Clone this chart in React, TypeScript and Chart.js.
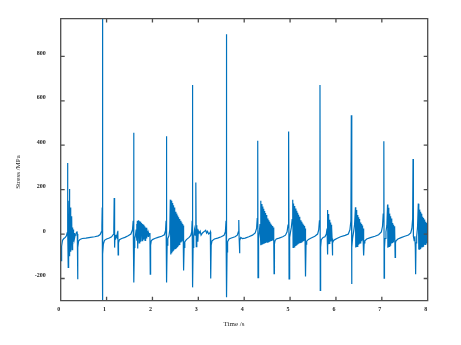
import React, { useEffect, useRef } from "react";
import { Chart, registerables } from "chart.js";

Chart.register(...registerables);

// ---- axis definitions ----
const xTickValues = [0, 1, 2, 3, 4, 5, 6, 7, 8];
const yTickValues = [-200, 0, 200, 400, 600, 800];
const xRange = [0, 8];
const yRange = [-300, 970];
const xTitle = "Time /s";
const yTitle = "Stress /MPa";

// ---- stress trace, [time s, stress MPa] ----
const seg0 = [
  [0, -108], [0.008, -120], [0.02, -55], [0.04, -28], [0.07, -20], [0.1, -15], [0.125, -8], [0.14, 5],
  [0.147, 40], [0.152, 320], [0.158, 20], [0.164, -150], [0.17, 50], [0.176, -30], [0.182, 150], [0.188, -60],
  [0.194, 203], [0.2, -100], [0.206, 120], [0.212, -40], [0.218, 90], [0.224, -80], [0.23, 60], [0.236, -50],
  [0.242, 80], [0.248, -70], [0.256, 30], [0.264, -50], [0.272, 20], [0.28, -35], [0.29, 5], [0.3, -20],
  [0.315, -5], [0.33, 0], [0.345, 8], [0.355, 12], [0.362, 0], [0.368, -203], [0.376, -60], [0.39, -32],
  [0.42, -24], [0.47, -20],
];
const seg1 = [
  [0.55, -18], [0.65, -15], [0.74, -12], [0.82, -8], [0.86, -2], [0.885, 10], [0.898, 35], [0.905, 120],
  [0.909, 1000], [0.913, -340], [0.92, -90], [0.93, -45], [0.955, -28], [1.0, -22], [1.06, -18], [1.11, -12],
];
const seg2 = [
  [1.145, -2], [1.158, 25], [1.166, 162], [1.172, -10], [1.178, -61], [1.185, -5], [1.195, -25], [1.21, -8],
  [1.225, -14], [1.238, 8], [1.246, 15], [1.252, -94], [1.26, -40], [1.28, -25], [1.33, -20], [1.4, -15],
  [1.47, -8], [1.53, 0],
];
const seg3 = [
  [1.565, 20], [1.58, 60], [1.59, 456], [1.597, -218], [1.605, -60], [1.615, -20], [1.63, -5], [1.645, 20],
  [1.655, 45], [1.663, -30], [1.671, 60], [1.679, -65], [1.687, 55], [1.695, -15], [1.703, 62], [1.711, -40],
  [1.719, 58], [1.727, -10], [1.735, 55], [1.743, -35], [1.751, 50], [1.759, -5], [1.767, 48], [1.775, -30],
  [1.783, 45], [1.791, -8], [1.799, 40], [1.807, -25], [1.815, 42], [1.823, -15], [1.831, 35], [1.839, -28],
  [1.847, 30], [1.855, -10], [1.863, 28], [1.871, -20], [1.879, 22], [1.887, -5], [1.895, 15], [1.905, -10],
  [1.915, 5], [1.93, -5], [1.945, 5], [1.952, -180], [1.96, -50], [1.975, -30], [2.0, -25],
];
const seg4 = [
  [2.05, -20], [2.12, -15], [2.2, -10], [2.26, -3], [2.285, 15], [2.297, 60], [2.305, 440], [2.311, -218],
  [2.32, -50], [2.335, -20], [2.36, -8], [2.378, 20], [2.39, 155], [2.4, -92], [2.41, 150], [2.42, -86],
  [2.43, 140], [2.44, -80], [2.45, 130], [2.46, -75], [2.47, 120], [2.48, -70], [2.49, 110], [2.5, -65],
  [2.51, 100], [2.52, -60], [2.53, 92], [2.54, -55], [2.55, 84], [2.56, -50], [2.57, 76], [2.58, -46],
  [2.59, 68], [2.6, -42], [2.61, 60], [2.62, -38], [2.63, 52], [2.64, -34], [2.65, 45], [2.66, -30],
  [2.668, 38], [2.675, -10], [2.683, -164], [2.69, -60], [2.705, -35], [2.74, -25], [2.8, -15],
];
const seg5 = [
  [2.835, -6], [2.855, 10], [2.866, 60], [2.872, 671], [2.878, -240], [2.886, -60], [2.9, -10], [2.918, 20],
  [2.932, -5], [2.942, 30], [2.949, 232], [2.955, -57], [2.963, 40], [2.971, -20], [2.98, 22], [2.99, -35],
  [3.0, 15], [3.02, 5], [3.04, 13], [3.06, -5], [3.09, 5], [3.12, 10], [3.16, 17], [3.18, 5],
  [3.2, 12], [3.225, 0], [3.25, 5], [3.262, 10], [3.27, -200], [3.28, -50], [3.3, -30], [3.35, -22],
  [3.42, -18], [3.5, -12],
];
const seg6 = [
  [3.56, -6], [3.59, 10], [3.604, 60], [3.612, 900], [3.618, -284], [3.626, -80], [3.638, -35], [3.67, -22],
  [3.72, -18], [3.8, -12], [3.85, -5], [3.872, 10], [3.882, 63], [3.89, -20], [3.898, -86], [3.906, -30],
  [3.925, -15], [3.96, -20], [4.02, -18], [4.1, -12], [4.18, -5], [4.24, 5], [4.27, 25], [4.284, 70],
];
const seg7 = [
  [4.295, 420], [4.301, -196], [4.309, -60], [4.318, -20], [4.33, 10], [4.345, 45], [4.358, 150], [4.366, -50],
  [4.376, 135], [4.386, -48], [4.396, 124], [4.406, -46], [4.416, 114], [4.426, -44], [4.436, 104], [4.446, -42],
  [4.456, 95], [4.466, -40], [4.476, 86], [4.486, -38], [4.496, 78], [4.506, -36], [4.516, 70], [4.526, -34],
  [4.536, 62], [4.546, -32], [4.556, 55], [4.566, -30], [4.576, 48], [4.586, -28], [4.596, 42], [4.606, -26],
  [4.616, 36], [4.626, -24], [4.636, 30], [4.644, -20], [4.651, -178], [4.659, -45], [4.672, -30], [4.7, -22],
  [4.76, -18], [4.84, -12], [4.9, -5], [4.935, 10], [4.955, 40], [4.965, 100],
];
const seg8 = [
  [4.972, 462], [4.978, -202], [4.986, -60], [4.996, -15], [5.01, 10], [5.028, 30], [5.045, 65], [5.058, 154],
  [5.066, -60], [5.076, 138], [5.086, -58], [5.096, 126], [5.106, -56], [5.116, 115], [5.126, -54], [5.136, 105],
  [5.146, -50], [5.156, 96], [5.166, -47], [5.176, 87], [5.186, -44], [5.196, 78], [5.206, -41], [5.216, 70],
  [5.226, -38], [5.236, 62], [5.246, -35], [5.256, 55], [5.266, -32], [5.276, 48], [5.286, -29], [5.296, 42],
  [5.306, -26], [5.316, 36], [5.326, -22], [5.333, 25], [5.34, -191], [5.348, -45], [5.362, -32], [5.4, -24],
  [5.46, -18], [5.54, -10], [5.6, 0], [5.625, 20], [5.64, 60],
];
const seg9 = [
  [5.652, 671], [5.658, -254], [5.666, -60], [5.68, -25], [5.72, -15], [5.76, -12], [5.79, 0], [5.806, 25],
  [5.815, 108], [5.821, -92], [5.829, 90], [5.837, -46], [5.845, 76], [5.853, -42], [5.861, 64], [5.869, -38],
  [5.877, 52], [5.885, -34], [5.893, 42], [5.901, -30], [5.909, 32], [5.916, -20], [5.922, -96], [5.93, -40],
  [5.945, -30], [5.975, -25], [6.02, -20], [6.1, -12], [6.2, -6], [6.27, 0], [6.305, 20], [6.326, 60],
];
const seg10 = [
  [6.335, 535], [6.341, -225], [6.349, -60], [6.362, -20], [6.385, 10], [6.405, 40], [6.425, 121], [6.432, -60],
  [6.44, 108], [6.448, -58], [6.456, 96], [6.464, -55], [6.472, 86], [6.48, -52], [6.488, 76], [6.496, -48],
  [6.504, 68], [6.512, -44], [6.52, 60], [6.528, -40], [6.536, 52], [6.544, -36], [6.552, 45], [6.56, -32],
  [6.568, 38], [6.576, -28], [6.584, 32], [6.592, -24], [6.6, 25], [6.607, -96], [6.615, -40], [6.63, -30],
  [6.67, -22], [6.75, -16], [6.85, -10], [6.93, -3], [6.99, 10], [7.015, 35], [7.03, 90],
];
const seg11 = [
  [7.044, 418], [7.05, -199], [7.058, -60], [7.07, -20], [7.09, 10], [7.11, 40], [7.125, 133], [7.132, -62],
  [7.14, 118], [7.148, -58], [7.156, 104], [7.164, -55], [7.172, 92], [7.18, -50], [7.188, 80], [7.196, -46],
  [7.204, 70], [7.212, -42], [7.22, 60], [7.228, -38], [7.236, 50], [7.244, -34], [7.252, 42], [7.26, -30],
  [7.268, 35], [7.276, -26], [7.283, 28], [7.29, -105], [7.298, -40], [7.31, -30], [7.35, -22], [7.42, -16],
  [7.5, -10], [7.58, -4], [7.63, 5], [7.655, 25], [7.672, 70],
];
const seg12 = [
  [7.68, 338], [7.688, -10], [7.705, -30], [7.72, -10], [7.73, -60], [7.737, -181], [7.745, -40], [7.76, -10],
  [7.778, 30], [7.795, 137], [7.802, -70], [7.81, 120], [7.818, -68], [7.826, 110], [7.834, -65], [7.842, 100],
  [7.85, -62], [7.858, 92], [7.866, -60], [7.874, 85], [7.882, -57], [7.89, 78], [7.898, -54], [7.906, 72],
  [7.914, -51], [7.922, 66], [7.93, -48], [7.938, 60], [7.946, -46], [7.954, 55], [7.962, -44], [7.97, 50],
  [7.978, -42], [7.986, 46], [7.994, -40], [8.0, 42],
];

const segments = [seg0, seg1, seg2, seg3, seg4, seg5, seg6, seg7, seg8, seg9, seg10, seg11, seg12];

const LINE_COLOR = "#0072BD";
const FRAME_COLOR = "#4d4d4d";
const TEXT_COLOR = "#262626";
const SERIF = '"Liberation Serif", "Times New Roman", serif';

const framePlugin = {
  id: "frameAndTitles",
  afterDatasetsDraw(chart: any) {
    const { ctx, chartArea: a, scales } = chart;
    const xs = scales.x;
    const ys = scales.y;
    const tl = 4;
    ctx.save();
    ctx.strokeStyle = FRAME_COLOR;
    ctx.lineWidth = 1.3;
    ctx.beginPath();
    ctx.rect(a.left, a.top, a.right - a.left, a.bottom - a.top);
    for (const v of xTickValues) {
      const px = xs.getPixelForValue(v);
      ctx.moveTo(px, a.bottom);
      ctx.lineTo(px, a.bottom - tl);
      ctx.moveTo(px, a.top);
      ctx.lineTo(px, a.top + tl);
    }
    for (const v of yTickValues) {
      const py = ys.getPixelForValue(v);
      ctx.moveTo(a.left, py);
      ctx.lineTo(a.left + tl, py);
      ctx.moveTo(a.right, py);
      ctx.lineTo(a.right - tl, py);
    }
    ctx.stroke();

    ctx.fillStyle = TEXT_COLOR;
    ctx.font = `7px ${SERIF}`;
    ctx.textAlign = "center";
    ctx.textBaseline = "middle";
    ctx.fillText(xTitle, 234, 324);
    ctx.translate(18, 172);
    ctx.rotate(-Math.PI / 2);
    ctx.fillText(yTitle, 0, 0);
    ctx.restore();
  },
};

export default function App() {
  const canvasRef = useRef<HTMLCanvasElement | null>(null);

  useEffect(() => {
    const canvas = canvasRef.current;
    if (!canvas) return;
    const points = segments.flat().map(([t, s]) => ({ x: t, y: s }));
    const chart = new Chart(canvas, {
      type: "line",
      data: {
        datasets: [
          {
            data: points,
            borderColor: LINE_COLOR,
            borderWidth: 1.2,
            pointRadius: 0,
            tension: 0,
            fill: false,
            clip: 0,
          } as any,
        ],
      },
      options: {
        animation: false,
        responsive: false,
        devicePixelRatio: 1,
        layout: { padding: { left: 0, top: 11, right: 33.3, bottom: 0 } },
        plugins: { legend: { display: false }, tooltip: { enabled: false } },
        events: [],
        scales: {
          x: {
            type: "linear",
            min: xRange[0],
            max: xRange[1],
            grid: { display: false, drawTicks: false },
            border: { display: false },
            afterBuildTicks: (scale: any) => {
              scale.ticks = xTickValues.map((v) => ({ value: v }));
            },
            afterFit: (scale: any) => {
              scale.height = 44.3;
            },
            ticks: {
              color: TEXT_COLOR,
              font: { family: SERIF, size: 6, weight: "bold" },
              padding: 5,
              maxRotation: 0,
              autoSkip: false,
              labelOffset: -2,
            },
          },
          y: {
            type: "linear",
            min: yRange[0],
            max: yRange[1],
            grid: { display: false, drawTicks: false },
            border: { display: false },
            afterBuildTicks: (scale: any) => {
              scale.ticks = yTickValues.map((v) => ({ value: v }));
            },
            afterFit: (scale: any) => {
              scale.width = 60.7;
            },
            ticks: {
              color: TEXT_COLOR,
              font: { family: SERIF, size: 6, weight: "bold" },
              padding: 15,
              autoSkip: false,
              labelOffset: -3,
            },
          },
        },
      },
      plugins: [framePlugin],
    } as any);
    return () => chart.destroy();
  }, []);

  return (
    <div style={{ position: "fixed", left: 0, top: 0, width: 461, height: 345, background: "#fff" }}>
      <canvas ref={canvasRef} width={461} height={345} style={{ display: "block" }} />
    </div>
  );
}
